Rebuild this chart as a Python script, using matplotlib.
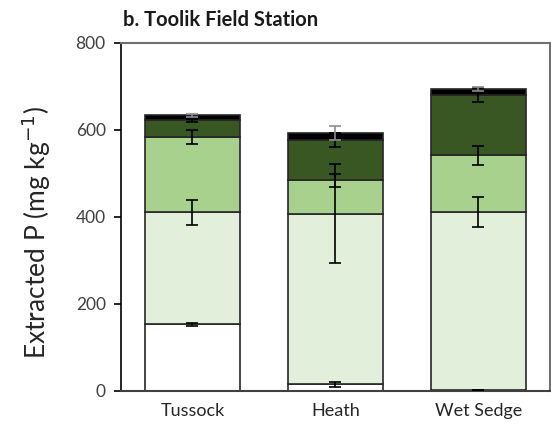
import matplotlib.pyplot as plt
import numpy as np

plt.rcParams['font.family'] = ['Lato', 'DejaVu Sans']

# data: extracted P fractions per site (mg/kg), stacked bottom to top
sites = ['Tussock', 'Heath', 'Wet Sedge']
frac1 = np.array([153, 15, 2])
frac2 = np.array([258, 393, 409])
frac3 = np.array([172, 76, 131])
frac4 = np.array([39, 94, 138])
frac5 = np.array([12, 16, 14])

# standard errors at the top of each stacked segment
err1 = np.array([3, 5, 0])
err2 = np.array([29, 113, 35])
err3 = np.array([16, 14, 22])
err4 = np.array([3, 16, 16])
err5 = np.array([3, 16, 4])

fractions = [frac1, frac2, frac3, frac4, frac5]
errors = [err1, err2, err3, err4, err5]
colors = ['white', '#e2efda', '#a9d18e', '#385723', 'black']
err_colors = ['black', 'black', 'black', 'black', '#8c8c8c']

fig = plt.figure(figsize=(5.51, 4.29), dpi=100)
ax = fig.add_axes([0.2196, 0.0886, 0.7784, 0.8112])

x = np.arange(len(sites))
bottom = np.zeros(len(sites))
for vals, col in zip(fractions, colors):
    ax.bar(x, vals, 0.67, bottom=bottom, color=col, edgecolor='#262626',
           linewidth=1.2, zorder=2)
    bottom = bottom + vals

# error bars drawn on top of the stack
tops = np.cumsum(fractions, axis=0)
for top, err, ec in zip(tops, errors, err_colors):
    ax.errorbar(x, top, yerr=err, fmt='none', ecolor=ec, elinewidth=1.2,
                capsize=4, capthick=1.2, zorder=3)

ax.set_xlim(-0.5, 2.5)
ax.set_ylim(0, 800)
ax.set_yticks([0, 200, 400, 600, 800])
ax.set_xticks(x)
ax.set_xticklabels(sites, fontsize=13, color='#262626')
ax.tick_params(axis='x', length=0, pad=9)
ax.tick_params(axis='y', direction='out', length=5, width=1.2, labelsize=12.5,
               labelcolor='#404040', pad=6)

ax.spines['left'].set_color('black')
ax.spines['left'].set_linewidth(1.2)
ax.spines['bottom'].set_color('#404040')
ax.spines['bottom'].set_linewidth(1.5)
for side in ['top', 'right']:
    ax.spines[side].set_color('#707070')
    ax.spines[side].set_linewidth(1.5)

ax.set_ylabel('Extracted P (mg kg$^{-1}$)', fontsize=19, color='#262626',
              labelpad=16)
ax.yaxis.label.set_y(0.455)
fig.text(0.223, 0.94, 'b. Toolik Field Station', fontsize=14.5,
         fontweight='bold', color='#1a1a1a')

fig.savefig('out.png', dpi=100)
